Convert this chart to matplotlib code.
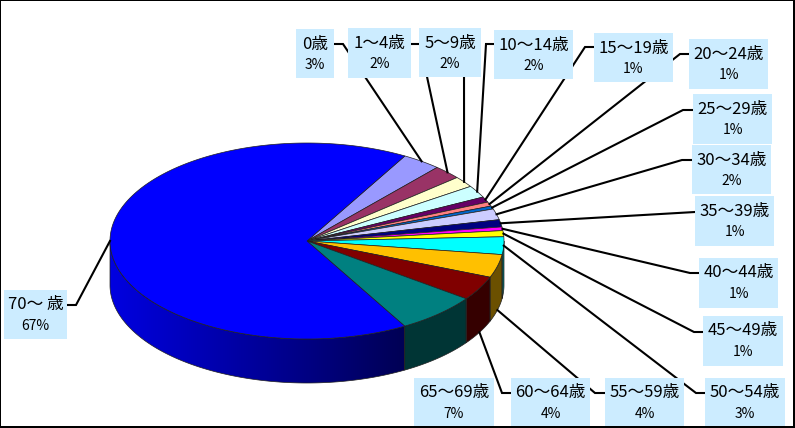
import numpy as np
import matplotlib
matplotlib.use('Agg')
import matplotlib.pyplot as plt
from matplotlib.patches import Polygon, Rectangle

plt.rcParams['font.family'] = ['Noto Sans CJK JP', 'DejaVu Sans']

# data
age_groups = ['0歳', '1～4歳', '5～9歳', '10～14歳', '15～19歳', '20～24歳', '25～29歳', '30～34歳',
              '35～39歳', '40～44歳', '45～49歳', '50～54歳', '55～59歳', '60～64歳', '65～69歳', '70～ 歳']
shares = [3.2, 2.3, 1.8, 2.0, 0.9, 0.7, 0.5, 1.8, 1.2, 0.6, 1.0, 2.9, 3.8, 4.0, 6.7, 66.4]
share_labels = ['3%', '2%', '2%', '2%', '1%', '1%', '1%', '2%', '1%', '1%', '1%', '3%', '4%', '4%', '7%', '67%']

colors = ['#9999FF', '#993366', '#FFFFCC', '#CCFFFF', '#660066', '#FF8080', '#0066CC', '#CCCCFF',
          '#000080', '#FF00FF', '#FFFF00', '#00FFFF', '#FFC000', '#800000', '#008080', '#0000FF']

# label boxes in pixels (x0, y0, x1, y1)
boxes = [(296, 29, 334, 78), (348, 28, 411, 78), (419, 28, 481, 77), (494, 30, 573, 79),
         (594, 33, 673, 82), (689, 39, 768, 89), (693, 94, 772, 144), (692, 145, 771, 194),
         (695, 196, 774, 246), (699, 258, 778, 308), (703, 316, 783, 366), (705, 378, 785, 427),
         (605, 378, 684, 427), (511, 378, 590, 427), (414, 378, 494, 427), (4, 290, 67, 339)]

# leader line: points from the label towards the pie, the rim end is computed
leaders = [[(334, 44), (343, 44)], [(411, 44), (420, 44)], [(464, 60)], [(494, 44), (486, 44)],
           [(594, 47), (585, 47)], [(689, 54), (680, 54)], [(693, 110), (683, 110)], [(692, 160), (682, 160)],
           [(695, 212)], [(699, 273), (690, 273)], [(703, 332), (694, 332)], [(705, 393), (696, 393)],
           [(605, 393), (595, 393)], [(511, 393), (502, 393)], None, [(67, 305), (76, 305)]]
on_bottom_edge = [12, 13]

cx, cy, rx, ry, depth = 307, 241, 197, 98, 44
start_angle = 29.8


def rim(theta, dy=0):
    t = np.radians(theta)
    return cx + rx * np.sin(t), cy - ry * np.cos(t) + dy


def darken(color, f):
    return [c * f for c in matplotlib.colors.to_rgb(color)]


fig = plt.figure(figsize=(7.95, 4.28), dpi=100)
ax = fig.add_axes([0, 0, 1, 1])

fractions = np.array(shares) / sum(shares) * 360
ends = start_angle + np.cumsum(fractions)
starts = ends - fractions

# side wall: a horizontal gradient image clipped to each slice's wall
for s, e, c in zip(starts, ends, colors):
    a0, a1 = max(s, 90), min(e, 270)
    if a1 <= a0:
        continue
    arc = np.linspace(a0, a1, int(a1 - a0) * 2 + 4)
    x, y = rim(arc)
    pts = list(zip(x, y)) + list(zip(x[::-1], y[::-1] + depth))
    wall = Polygon(pts, closed=True, facecolor='none', edgecolor='#202020', linewidth=0.5, zorder=1.5)
    ax.add_patch(wall)
    x0, x1 = x.min() - 1, x.max() + 1
    xs = np.linspace(x0, x1, 256)
    if c == '#0000FF':
        f = 0.33 + 0.55 * (405 - xs) / 295
    else:
        f = np.full_like(xs, 0.42)
    grad = np.array([[darken(c, v) for v in f]])
    im = ax.imshow(grad, extent=(x0, x1, cy + 160, cy - 160), aspect='auto', zorder=1, interpolation='bilinear')
    im.set_clip_path(wall)

# top face
for s, e, c in zip(starts, ends, colors):
    arc = np.linspace(s, e, max(int(e - s) * 2, 3))
    ax_, ay_ = rim(arc)
    pts = [(cx, cy)] + list(zip(ax_, ay_))
    ax.add_patch(Polygon(pts, closed=True, facecolor=c, edgecolor='#202020', linewidth=0.5, zorder=2))

# leaders, boxes, text
for i, (pts, box) in enumerate(zip(leaders, boxes)):
    mid = (starts[i] + ends[i]) / 2
    if pts is not None:
        end = rim(mid, depth if i in on_bottom_edge else 0)
        xs = [p[0] for p in pts] + [end[0]]
        ys = [p[1] for p in pts] + [end[1]]
        ax.plot(xs, ys, color='black', linewidth=1.5, solid_joinstyle='miter', zorder=3)
    x0, y0, x1, y1 = box
    ax.add_patch(Rectangle((x0, y0), x1 - x0, y1 - y0, facecolor='#CCECFF', edgecolor='none', zorder=4))
    xc = (x0 + x1) / 2
    ax.text(xc, y0 + 15, age_groups[i], fontsize=12, ha='center', va='center', color='black', zorder=5)
    ax.text(xc, y0 + 36, share_labels[i], fontsize=10, ha='center', va='center', color='black', zorder=5)

# chart frame
ax.add_patch(Rectangle((0, 0), 794, 427, facecolor='none', edgecolor='black', linewidth=1.44, zorder=6))

ax.set_xlim(0, 795)
ax.set_ylim(428, 0)
ax.axis('off')

fig.savefig('out.png', dpi=100)
